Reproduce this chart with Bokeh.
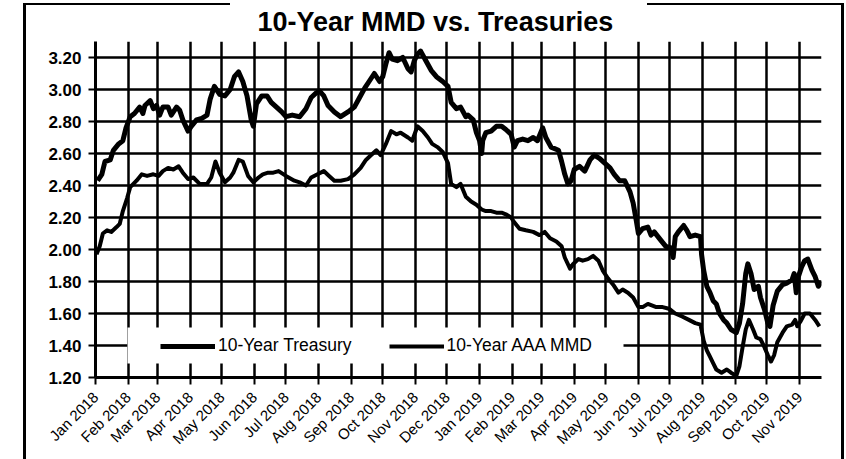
import math
import pandas as pd
from bokeh.plotting import figure
from bokeh.models import (Range1d, MonthsTicker, DatetimeTickFormatter, FixedTicker,
                          NumeralTickFormatter, Legend, LegendItem, BoxAnnotation)
from bokeh.embed import file_html
from bokeh.resources import INLINE

FONT = "Liberation Sans"
BASE = pd.Timestamp("2018-01-01")

title_text = "10-Year MMD vs. Treasuries"
series_names = ["10-Year Treasury", "10-Year AAA MMD"]
y_ticks = [1.20, 1.40, 1.60, 1.80, 2.00, 2.20, 2.40, 2.60, 2.80, 3.00, 3.20]

# dates as days since 1 Jan 2018
tsy_day = [2, 6, 9, 14, 17, 22, 26, 29, 33, 37, 42, 45, 47, 52, 55, 58, 61, 64, 69, 72,
           77, 80, 83, 88, 91, 96, 101, 106, 109, 113, 118, 123, 128, 132, 136, 140, 144, 148, 150, 153,
           158, 163, 167, 172, 177,
           181, 187, 194, 200, 205, 210, 213, 217, 221, 227, 233, 240, 246, 251, 256, 260, 265, 270, 273, 276,
           279, 282, 287, 292, 297, 300, 303, 306, 309, 314, 319, 324, 330, 335, 338, 343, 347, 352,
           354, 359, 362, 365, 367, 368, 371, 376, 381, 386, 390, 395, 398, 401, 406, 411, 416, 420, 425, 428,
           433, 440, 443, 446, 449, 452, 455, 460, 465, 470, 474, 479, 484, 489, 493, 498, 503, 508, 511, 514,
           516, 520, 525, 528,
           531, 537, 542, 547, 549, 551, 554, 559, 562, 565, 570, 575, 576, 578, 581, 584, 587, 590, 593, 597,
           600, 604, 609, 612, 615, 618, 620, 623, 626, 630, 632, 636, 639, 641, 644, 648, 653, 657, 662, 664,
           666, 668, 671, 674, 677, 681, 684, 687, 690]
tsy_val = [2.43, 2.47, 2.55, 2.56, 2.62, 2.66, 2.68, 2.76, 2.83, 2.85, 2.89, 2.85, 2.90, 2.93, 2.88, 2.90, 2.84, 2.89, 2.89, 2.84,
           2.89, 2.87, 2.81, 2.74, 2.77, 2.81, 2.82, 2.84, 2.94, 3.02, 2.97, 2.96, 3.00, 3.08, 3.11, 3.05, 2.96, 2.81, 2.77, 2.91,
           2.96, 2.96, 2.92, 2.89, 2.86,
           2.83, 2.84, 2.83, 2.88, 2.95, 2.98, 2.99, 2.96, 2.90, 2.86, 2.83, 2.86, 2.89, 2.95, 3.01, 3.05, 3.10, 3.05, 3.08, 3.16,
           3.23, 3.19, 3.18, 3.20, 3.13, 3.11, 3.18, 3.22, 3.24, 3.18, 3.12, 3.08, 3.05, 3.02, 2.92, 2.88, 2.89, 2.83,
           2.84, 2.81, 2.73, 2.68, 2.60, 2.68, 2.73, 2.74, 2.77, 2.77, 2.75, 2.72, 2.64, 2.68, 2.69, 2.68, 2.70, 2.68, 2.76, 2.70,
           2.64, 2.62, 2.55, 2.47, 2.41, 2.43, 2.50, 2.52, 2.49, 2.56, 2.59, 2.57, 2.54, 2.51, 2.47, 2.43, 2.43, 2.36, 2.29, 2.18,
           2.10, 2.13, 2.14, 2.09,
           2.11, 2.06, 2.02, 2.01, 1.95, 2.08, 2.11, 2.15, 2.12, 2.08, 2.09, 2.08, 1.97, 1.87, 1.77, 1.73, 1.68, 1.66, 1.60, 1.56,
           1.54, 1.50, 1.48, 1.54, 1.66, 1.85, 1.91, 1.85, 1.75, 1.77, 1.70, 1.62, 1.54, 1.52, 1.65, 1.74, 1.78, 1.79, 1.81, 1.85,
           1.73, 1.83, 1.89, 1.93, 1.94, 1.87, 1.83, 1.77, 1.80]

mmd_day = [1, 4, 7, 11, 15, 20, 23, 26, 30, 33, 36, 39, 44, 49, 55, 60, 64, 69, 74, 79,
           83, 88, 93, 99, 106, 110, 114, 118, 123, 128, 131, 136, 140, 145, 150, 155, 159, 164, 169, 174,
           181, 189, 194, 200, 205, 211, 217, 222, 227, 233, 240, 246, 252, 257, 262, 267, 271, 276, 281, 286,
           290, 297, 301, 306, 311, 316, 320, 325, 330, 335, 338, 343, 347, 352,
           357, 362, 367, 371, 376, 381, 386, 390, 395, 398, 403, 409, 416, 422, 427, 432, 438, 443, 446, 451,
           454, 459, 463, 468, 473, 478, 482, 487, 492, 497, 501, 506, 511, 516, 520, 525,
           533, 539, 545, 551, 558, 564, 570, 575, 578, 581, 584, 587, 590, 595, 600, 604, 609, 612, 615, 618,
           621, 625, 628, 632, 635, 639, 642, 645, 648, 653, 657, 662, 665, 667, 670, 674, 679, 684, 688]
mmd_val = [1.97, 2.02, 2.10, 2.12, 2.11, 2.14, 2.16, 2.24, 2.32, 2.39, 2.41, 2.43, 2.47, 2.46, 2.47, 2.46, 2.49, 2.51, 2.50, 2.52,
           2.48, 2.44, 2.45, 2.41, 2.41, 2.45, 2.55, 2.48, 2.42, 2.45, 2.48, 2.56, 2.55, 2.46, 2.42, 2.45, 2.47, 2.48, 2.48, 2.49,
           2.46, 2.43, 2.42, 2.40, 2.45, 2.47, 2.49, 2.46, 2.43, 2.43, 2.44, 2.47, 2.51, 2.56, 2.59, 2.62, 2.59, 2.66, 2.74, 2.72,
           2.73, 2.70, 2.68, 2.77, 2.74, 2.70, 2.66, 2.64, 2.61, 2.54, 2.41, 2.39, 2.41, 2.33,
           2.30, 2.28, 2.25, 2.24, 2.24, 2.23, 2.23, 2.22, 2.20, 2.17, 2.13, 2.12, 2.11, 2.09, 2.11, 2.07, 2.05, 2.02, 1.95, 1.88,
           1.91, 1.94, 1.93, 1.94, 1.96, 1.93, 1.87, 1.82, 1.78, 1.73, 1.75, 1.73, 1.70, 1.64, 1.64, 1.66,
           1.64, 1.64, 1.63, 1.60, 1.58, 1.56, 1.54, 1.53, 1.43, 1.37, 1.33, 1.29, 1.25, 1.23, 1.25, 1.23, 1.21, 1.27, 1.39, 1.50,
           1.56, 1.50, 1.45, 1.44, 1.40, 1.34, 1.30, 1.34, 1.42, 1.48, 1.52, 1.53, 1.56, 1.52, 1.55, 1.60, 1.60, 1.56, 1.52]

tsy_dates = BASE + pd.to_timedelta(tsy_day, unit="D")
mmd_dates = BASE + pd.to_timedelta(mmd_day, unit="D")

# outer chart border drawn as CSS background lines (gap where the title sits)
chart_border = {
    "background-color": "white",
    "background-image": ", ".join(["linear-gradient(black, black)"] * 4),
    "background-position": "23px 3px, 841px 3px, 23px 3px, 647px 3px",
    "background-size": "3px 470px, 3px 470px, 207px 2px, 197px 2px",
    "background-repeat": "no-repeat",
}

p = figure(width=846, height=459, x_axis_type="datetime",
           output_backend="svg", toolbar_location=None,
           x_range=Range1d(BASE.to_pydatetime(), (BASE + pd.Timedelta(days=690)).to_pydatetime()),
           y_range=Range1d(1.20, 3.30),
           min_border_left=95, min_border_right=25, min_border_top=41, min_border_bottom=82,
           styles=chart_border)
p.outline_line_color = None
p.background_fill_color = "white"
p.border_fill_color = None

p.title.text = title_text
p.title.align = "left"
p.title.offset = 162
p.title.standoff = 6
p.title.vertical_align = "top"
p.title.text_font = FONT
p.title.text_font_style = "bold"
p.title.text_font_size = "27px"
p.title.text_color = "black"

r1 = p.line(tsy_dates, tsy_val, line_color="black", line_width=5, line_join="round")
r2 = p.line(mmd_dates, mmd_val, line_color="black", line_width=4, line_join="round")

month_ticker = MonthsTicker(months=list(range(12)))
p.xaxis.ticker = month_ticker
p.xgrid.ticker = month_ticker
p.xaxis.formatter = DatetimeTickFormatter(days="%b %Y", months="%b %Y", years="%b %Y")
p.xaxis.major_label_orientation = math.pi / 4
p.yaxis.ticker = FixedTicker(ticks=y_ticks)
p.yaxis.formatter = NumeralTickFormatter(format="0.00")

for ax in (p.xaxis[0], p.yaxis[0]):
    ax.axis_line_color = "black"
    ax.axis_line_width = 3
    ax.major_tick_line_color = "black"
    ax.major_tick_line_width = 2
    ax.major_tick_in = 0
    ax.major_tick_out = 7
    ax.minor_tick_line_color = None
    ax.major_label_text_font = FONT
    ax.major_label_text_color = "black"
p.yaxis.major_label_text_font_size = "17px"
p.yaxis.major_label_text_font_style = "bold"
p.yaxis.major_label_standoff = 7
p.xaxis.major_label_text_font_size = "15px"
p.xaxis.major_label_standoff = 10

for g in (p.xgrid[0], p.ygrid[0]):
    g.grid_line_color = "black"
    g.grid_line_width = 2.5
    g.grid_line_alpha = 1

# white backing of the legend (hides the grid behind it)
p.add_layout(BoxAnnotation(left=127, right=623, top=327, bottom=363,
                           left_units="canvas", right_units="canvas", top_units="canvas", bottom_units="canvas",
                           fill_color="white", fill_alpha=1, line_color=None))

legend = Legend(items=[LegendItem(label=series_names[0], renderers=[r1]),
                       LegendItem(label=series_names[1], renderers=[r2])],
                orientation="horizontal", location=(65, 21), margin=0, padding=10,
                glyph_width=55, glyph_height=16, label_standoff=3, spacing=37,
                border_line_color=None, background_fill_color="white", background_fill_alpha=1,
                label_text_font=FONT, label_text_font_size="17.5px", label_text_color="black")
p.add_layout(legend)

open("out.html", "w").write(file_html(p, INLINE))
